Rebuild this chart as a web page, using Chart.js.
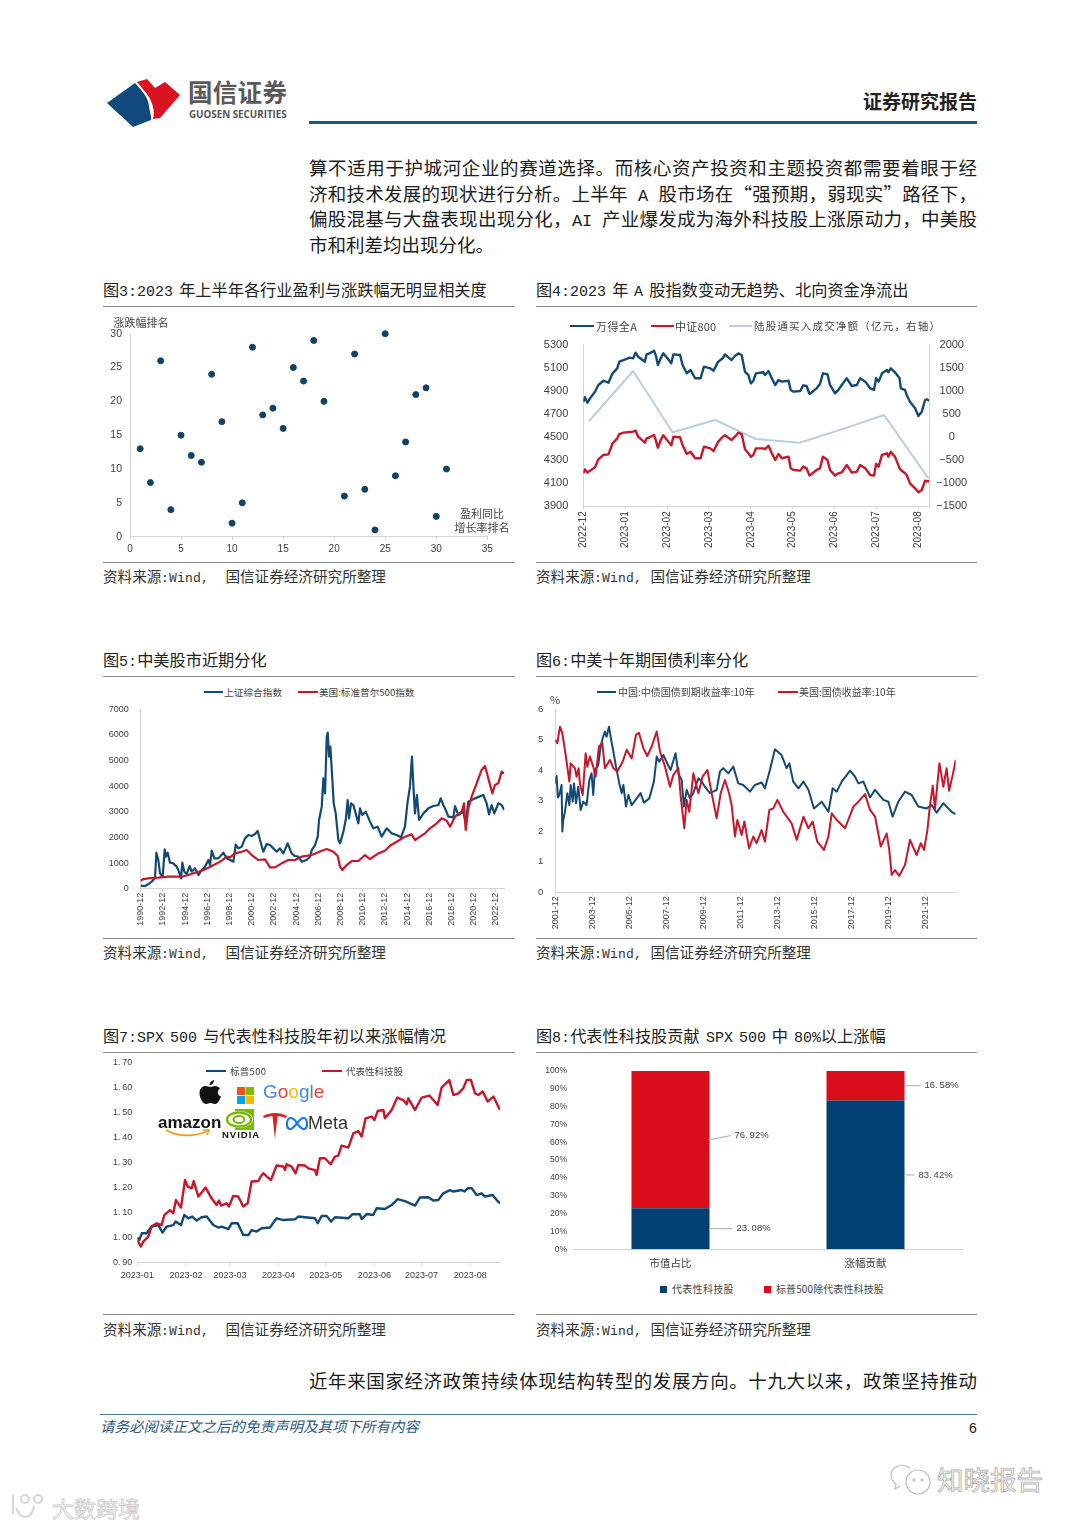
<!DOCTYPE html>
<html lang="zh-CN">
<head>
<meta charset="utf-8">
<title>证券研究报告</title>
<script src="https://cdn.jsdelivr.net/npm/chart.js@4"></script>
<style>
  @font-face { font-family: "LatinBody"; src: local("Liberation Mono"); size-adjust: 92%; unicode-range: U+0020-007E; }
  html, body { margin: 0; padding: 0; background: #fff; }
  body { position: relative; width: 1080px; height: 1527px; overflow: hidden; font-family: "Noto Sans CJK SC", sans-serif; color: #222; }
  .abs { position: absolute; white-space: nowrap; }
  .para { position: absolute; left: 309px; width: 668px; font-size: 18.5px; line-height: 26px; text-align: justify; text-align-last: justify; color: #1c1c1c; font-family: "LatinBody", "Noto Sans CJK SC"; white-space: nowrap; }
  .fig { position: absolute; font-size: 16.2px; line-height: 20px; word-spacing: -3px; color: #222; font-family: "LatinBody", "Noto Sans CJK SC"; white-space: nowrap; }
  .src { position: absolute; font-size: 14.6px; line-height: 18px; color: #333; font-family: "LatinBody", "Noto Sans CJK SC"; white-space: pre; }
  .rule { position: absolute; height: 1px; background: #8a8a8a; }
  .lg { position: absolute; line-height: 14px; color: #444; white-space: nowrap; }
  .ax { position: absolute; font-size: 11px; line-height: 14px; color: #444; white-space: nowrap; }
</style>
</head>
<body>
<!-- page header -->
<svg class="abs" style="left:105px;top:76px" width="80" height="54" viewBox="0 0 80 54">
  <path d="M2 27 L30 7 C36 14 43 20 44 30 C45 38 47 42 46 44 L28 51 Z" fill="#12497c"/>
  <path d="M32 6 L42 3 L50 12 L60 6 L75 19 L55 42 L48 43 C50 36 48 28 44 21 C40 15 36 11 32 6 Z" fill="#d8121f"/>
</svg>
<div class="abs" style="left:188px;top:75px;font-size:24.5px;line-height:34px;font-weight:700;color:#5a5a5a;letter-spacing:.3px">国信证券</div>
<div class="abs" style="left:189px;top:108px;font-size:9.8px;line-height:13px;font-weight:700;color:#555;font-family:'Open Sans'">GUOSEN SECURITIES</div>
<div class="abs" style="left:863px;top:88px;font-size:19px;line-height:26px;font-weight:700;color:#222">证券研究报告</div>
<div class="abs" style="left:309px;top:121px;width:668px;height:3px;background:#1d5480"></div>

<div class="para" style="top:158px">算不适用于护城河企业的赛道选择。而核心资产投资和主题投资都需要着眼于经</div>
<div class="para" style="top:184px">济和技术发展的现状进行分析。上半年 A 股市场在“强预期&#xFF0C;弱现实”路径下&#xFF0C;</div>
<div class="para" style="top:209px">偏股混基与大盘表现出现分化&#xFF0C;AI 产业爆发成为海外科技股上涨原动力&#xFF0C;中美股</div>
<div class="para" style="top:235px;text-align-last:left">市和利差均出现分化。</div>

<div class="fig" style="left:103px;top:282px">图3:2023 年上半年各行业盈利与涨跌幅无明显相关度</div>
<div class="fig" style="left:536px;top:282px">图4:2023 年 A 股指数变动无趋势、北向资金净流出</div>
<div class="rule" style="left:103px;top:306px;width:412px"></div>
<div class="rule" style="left:536px;top:306px;width:441px"></div>
<div class="rule" style="left:103px;top:562px;width:412px"></div>
<div class="rule" style="left:536px;top:562px;width:441px"></div>
<div class="src" style="left:103px;top:570px">资料来源:Wind,  国信证券经济研究所整理</div>
<div class="src" style="left:536px;top:570px">资料来源:Wind, 国信证券经济研究所整理</div>

<div class="fig" style="left:103px;top:652px">图5:中美股市近期分化</div>
<div class="fig" style="left:536px;top:652px">图6:中美十年期国债利率分化</div>
<div class="rule" style="left:103px;top:676px;width:412px"></div>
<div class="rule" style="left:536px;top:676px;width:441px"></div>
<div class="rule" style="left:103px;top:938px;width:412px"></div>
<div class="rule" style="left:536px;top:938px;width:441px"></div>
<div class="src" style="left:103px;top:946px">资料来源:Wind,  国信证券经济研究所整理</div>
<div class="src" style="left:536px;top:946px">资料来源:Wind, 国信证券经济研究所整理</div>

<div class="fig" style="left:103px;top:1028px">图7:SPX 500 与代表性科技股年初以来涨幅情况</div>
<div class="fig" style="left:536px;top:1028px">图8:代表性科技股贡献 SPX 500 中 80%以上涨幅</div>
<div class="rule" style="left:103px;top:1052px;width:412px"></div>
<div class="rule" style="left:536px;top:1052px;width:441px"></div>
<div class="rule" style="left:103px;top:1314px;width:412px"></div>
<div class="rule" style="left:536px;top:1314px;width:441px"></div>
<div class="src" style="left:103px;top:1323px">资料来源:Wind,  国信证券经济研究所整理</div>
<div class="src" style="left:536px;top:1323px">资料来源:Wind, 国信证券经济研究所整理</div>

<div class="para" style="top:1371px">近年来国家经济政策持续体现结构转型的发展方向。十九大以来&#xFF0C;政策坚持推动</div>

<div class="abs" style="left:100px;top:1414px;width:877px;height:1px;background:#4f7896"></div>
<div class="abs" style="left:100px;top:1416px;font-size:14.5px;line-height:20px;font-style:italic;color:#2c5a84">请务必阅读正文之后的免责声明及其项下所有内容</div>
<div class="abs" style="left:969px;top:1419px;font-size:14px;line-height:18px;color:#222;font-family:'Liberation Sans'">6</div>

<!-- watermarks -->
<svg class="abs" style="left:888px;top:1462px" width="48" height="36" viewBox="0 0 48 36" fill="none" stroke="#bdbdbd" stroke-width="1.2">
  <path d="M22 6 C14 0 3 5 3 13 C3 17 5 20 8 22 L7 27 L12 24"/>
  <circle cx="30" cy="20" r="12"/><circle cx="26" cy="18" r="1"/><circle cx="34" cy="18" r="1"/>
</svg>
<div class="abs" style="left:937px;top:1461px;font-size:26.5px;line-height:36px;color:#fff;-webkit-text-stroke:.9px #b4b4b4">知晓报告</div>
<svg class="abs" style="left:8px;top:1492px" width="44" height="32" viewBox="0 0 44 32" fill="none" stroke="#d6d6d6" stroke-width="2">
  <path d="M5 3 V22"/><path d="M8 16 C12 28 24 28 26 14"/><circle cx="17" cy="7" r="4"/><circle cx="30" cy="7" r="4"/>
</svg>
<div class="abs" style="left:52px;top:1491px;font-size:22px;line-height:32px;color:#fff;-webkit-text-stroke:.9px #cfcfcf">大数跨境</div>

<script>
// 图3 scatter
const earningsRank = [1,2,3,4,5,6,7,8,9,10,11,12,13,14,15,16,17,18,19,21,22,23,24,25,26,27,28,29,30,31];
const returnRank = [13,8,26,4,15,12,11,24,17,2,5,28,18,19,16,25,23,29,20,6,27,7,1,30,9,14,21,22,3,10];

// 图4 months since 2022-12
const fig4Ticks = ["2022-12","2023-01","2023-02","2023-03","2023-04","2023-05","2023-06","2023-07","2023-08"];
const fig4Time = [0,.04,.10,.16,.28,.36,.48,.60,.70,.81,
  .86,.96,1.11,1.19,1.25,1.31,1.47,1.51,1.58,1.69,
  1.74,1.78,1.85,1.91,2.01,2.10,2.15,2.31,2.37,2.47,
  2.56,2.67,2.80,2.88,3.03,3.11,3.22,3.33,3.38,3.54,
  3.62,3.70,3.78,3.86,3.94,4.00,4.06,4.12,4.30,4.34,
  4.42,4.50,4.58,4.66,4.74,4.90,4.95,5.02,5.18,5.25,
  5.33,5.40,5.57,5.65,5.72,5.83,5.89,6.01,6.09,6.17,
  6.29,6.41,6.53,6.61,6.73,6.85,6.94,6.99,7.05,7.13,
  7.25,7.28,7.34,7.44,7.55,7.58,7.68,7.72,7.80,7.92,
  8.00,8.08,8.16,8.20,8.26];
const windA = [4806,4844,4798,4835,4893,4951,4988,4971,5052,5095,
  5153,5167,5188,5182,5231,5196,5153,5216,5225,5248,
  5196,5124,5182,5225,5182,5139,5216,5211,5124,5052,
  5081,5009,5009,5110,5095,5075,5153,5182,5216,5167,
  5202,5225,5211,5066,5037,4965,4988,5052,5061,5037,
  5072,5009,4951,4994,4980,4988,4908,4893,4899,4948,
  4942,4873,4922,4960,5052,5043,4951,4879,4908,4951,
  5009,4942,4951,5009,4980,4922,4908,5009,4980,5052,
  5081,5061,5095,5061,5009,4922,4908,4864,4806,4749,
  4682,4720,4821,4827,4815];
const csi800 = [4186,4220,4192,4209,4238,4307,4345,4350,4446,4489,
  4526,4538,4544,4547,4555,4503,4451,4489,4498,4518,
  4460,4408,4475,4515,4469,4428,4503,4498,4431,4353,
  4373,4316,4316,4417,4402,4379,4460,4503,4515,4475,
  4503,4538,4526,4394,4359,4330,4345,4402,4402,4394,
  4425,4359,4301,4353,4316,4330,4229,4215,4209,4244,
  4229,4166,4215,4229,4330,4301,4215,4166,4186,4194,
  4258,4192,4200,4258,4229,4171,4166,4267,4244,4345,
  4359,4330,4373,4330,4229,4215,4186,4171,4099,4056,
  4021,4041,4122,4117,4117];
const connectTime = [.14,1.19,2.13,3.15,4.12,5.16,6.17,7.18,8.24];
const connectFlow = [347,1430,102,369,-42,-122,167,477,-894];
const fig4Right = ["−1500","−1000","−500","0","500","1000","1500","2000"];

// 图5 years since 1990-12
const fig5Ticks = ["1990-12","1992-12","1994-12","1996-12","1998-12","2000-12","2002-12","2004-12","2006-12","2008-12","2010-12","2012-12","2014-12","2016-12","2018-12","2020-12","2022-12"];
const sseTime = [0,.39,.69,.99,1.29,1.41,1.59,1.74,1.98,2.16,
  2.28,2.43,2.64,2.94,3.24,3.39,3.63,3.75,3.93,4.14,
  4.41,4.59,4.89,5.20,5.50,5.80,6.10,6.25,6.40,6.64,
  7.00,7.45,7.75,8.05,8.35,8.56,8.80,9.10,9.40,9.70,
  10.0,10.3,10.54,10.75,11.05,11.35,11.65,11.95,12.25,12.55,
  12.85,13.24,13.60,13.90,14.20,14.50,14.95,15.26,15.41,15.71,
  15.95,16.07,16.31,16.46,16.61,16.76,16.85,16.97,17.09,17.27,
  17.39,17.57,17.81,17.96,18.26,18.47,18.65,18.77,18.95,19.16,
  19.37,19.61,19.76,19.97,20.27,20.66,20.96,21.35,21.71,22.16,
  22.61,23.06,23.45,23.81,24.05,24.26,24.44,24.59,24.71,24.89,
  25.08,25.47,25.92,26.37,26.82,27.03,27.27,27.51,27.72,28.17,
  28.32,28.62,29.07,29.28,29.52,30.12,30.87,31.17,31.38,31.62,
  31.86,32.22,32.52,32.76];
const sseIndex = [117,104,182,273,416,1405,1119,598,468,1535,
  1249,1405,1015,989,859,729,403,1015,664,572,
  885,664,794,533,729,859,1119,924,1483,1184,
  1184,1405,1184,1119,1054,1717,1574,1639,1964,2095,
  2056,2134,2251,1899,1444,1743,1704,1574,1444,1574,
  1379,1769,1379,1275,1249,1054,1119,1249,1509,1704,
  2030,2680,3200,4306,3721,5932,6089,5152,5542,4241,
  3330,2940,1899,1769,2225,2680,3460,2745,3330,3265,
  2940,2550,3135,2875,3005,2615,2355,2420,2030,2355,
  2160,2095,2004,2420,3395,3981,5152,3851,2940,3656,
  2680,2940,3135,3226,3265,3525,3265,3044,2810,2784,
  3226,2875,3005,2550,3395,3525,3656,3330,2901,3265,
  2940,3330,3265,3070];
const spxTime = [0,.24,.69,1.59,2.49,3.69,4.29,4.89,5.50,6.10,
  6.70,7.30,7.75,8.05,8.50,9.10,9.55,10.0,10.6,11.2,
  11.65,12.1,12.7,13.3,13.9,14.5,15.41,16.31,16.76,17.36,
  17.75,17.96,18.17,18.56,19.01,19.61,20.21,20.66,21.41,22.01,
  22.46,23.21,23.81,24.41,24.71,25.17,25.62,26.07,26.67,27.12,
  27.57,27.87,28.32,28.92,29.13,29.28,29.52,29.82,30.27,30.72,
  31.02,31.32,31.68,31.92,32.22,32.52,32.76];
const spxIndex = [312,377,403,429,468,468,533,624,703,820,
  950,1093,1249,1223,1379,1444,1509,1314,1119,1145,
  833,833,989,1119,1119,1249,1314,1483,1548,1444,
  1275,859,729,924,1080,1080,1314,1158,1379,1483,
  1678,1873,2030,2121,1899,2030,2160,2355,2550,2745,
  2654,2420,2810,3005,3330,2290,3135,3591,4111,4632,
  4788,4306,3721,4046,4111,4567,4502];

// 图6 years since 2001-12
const fig6Ticks = ["2001-12","2003-12","2005-12","2007-12","2009-12","2011-12","2013-12","2015-12","2017-12","2019-12","2021-12"];
const cnTime = [0,.07,.14,.22,.34,.38,.43,.52,.65,.76,
  .83,.94,1.01,1.12,1.24,1.37,1.51,1.69,1.84,1.96,
  2.05,2.14,2.32,2.45,2.56,2.68,2.77,2.90,3.05,3.14,
  3.28,3.46,3.59,3.68,3.82,3.95,4.13,4.40,4.61,4.79,
  5.08,5.33,5.48,5.62,5.84,6.05,6.23,6.50,6.65,6.83,
  6.95,7.10,7.28,7.46,7.73,7.91,8.09,8.36,8.72,8.90,
  9.08,9.35,9.62,9.89,10.16,10.52,10.79,11.15,11.33,11.60,
  11.87,12.23,12.50,12.65,12.86,13.14,13.41,13.68,13.98,14.40,
  14.76,14.99,15.21,15.48,15.93,16.20,16.38,16.65,17.01,17.28,
  17.73,18.00,18.23,18.54,18.90,19.26,19.62,20.07,20.34,20.61,
  20.97,21.24,21.42,21.64];
const cnYield = [3.57,3.81,3.11,3.19,3.52,1.99,2.37,2.64,3.25,2.86,
  3.52,2.97,3.57,2.92,3.46,2.70,2.97,2.86,3.68,3.90,
  3.19,4.01,4.17,4.78,5.05,5.27,5.10,5.43,4.89,4.61,
  4.12,3.57,3.25,3.52,2.81,3.19,2.86,3.08,3.25,2.94,
  3.08,3.63,4.45,4.28,4.50,4.23,4.01,4.56,3.90,3.68,
  2.81,3.36,3.08,3.25,3.74,3.63,3.46,3.25,3.36,3.96,
  4.07,3.90,4.12,3.57,3.52,3.30,3.52,3.60,3.41,4.01,
  4.69,4.50,4.07,4.23,3.63,3.41,3.63,3.36,2.75,2.97,
  2.64,3.41,3.30,3.63,3.99,3.79,3.57,3.63,3.11,3.36,
  3.03,2.97,2.48,2.97,3.30,3.19,2.81,2.75,2.86,2.61,
  2.92,2.75,2.64,2.56];
const usTime = [0,.11,.25,.38,.52,.76,.83,1.06,1.15,1.26,
  1.33,1.48,1.64,1.73,1.87,2.05,2.18,2.36,2.54,2.68,
  2.95,3.14,3.35,3.64,3.86,4.13,4.36,4.52,4.76,4.97,
  5.21,5.48,5.66,5.93,6.20,6.38,6.65,6.77,6.97,7.10,
  7.24,7.46,7.73,7.96,8.22,8.45,8.72,8.94,9.17,9.39,
  9.53,9.71,9.84,10.07,10.22,10.47,10.70,10.88,11.15,11.33,
  11.57,11.78,12.0,12.32,12.77,13.05,13.41,13.68,13.91,14.16,
  14.52,14.76,14.94,15.21,15.66,16.11,16.38,16.74,17.01,17.28,
  17.59,17.91,18.05,18.18,18.36,18.59,18.90,19.17,19.53,19.75,
  19.93,20.11,20.25,20.40,20.52,20.76,20.97,21.15,21.28,21.48,
  21.64];
const usYield = [4.99,4.89,5.43,5.21,4.67,3.63,4.23,4.07,3.79,4.07,
  3.57,3.19,4.56,4.12,4.45,4.12,3.79,4.78,4.89,4.07,
  4.34,4.07,3.96,4.28,4.67,4.39,5.16,5.23,4.72,4.47,
  4.78,5.27,4.61,4.12,3.46,3.85,4.07,3.19,2.10,3.03,
  2.64,3.90,3.25,3.79,4.01,3.25,2.43,3.25,3.68,3.25,
  2.86,1.83,2.37,1.88,2.32,1.44,1.83,1.61,2.04,1.66,
  2.70,2.75,3.03,2.64,2.26,1.72,2.48,2.10,2.32,1.66,
  1.39,1.83,2.59,2.37,2.10,2.81,2.97,3.22,2.70,2.48,
  1.50,1.93,1.39,0.57,0.73,0.54,0.90,1.72,1.22,1.61,
  1.39,2.04,2.86,3.49,2.75,4.23,3.46,4.07,3.33,3.85,
  4.34];

// 图7 days since 2023-01-01
const fig7Ticks = ["2023-01","2023-02","2023-03","2023-04","2023-05","2023-06","2023-07","2023-08"];
const fig7TickDays = [0,31,59,90,120,151,181,212];
const fig7Left = ["0.\u200990","1.\u200900","1.\u200910","1.\u200920","1.\u200930","1.\u200940","1.\u200950","1.\u200960","1.\u200970"];
const spDays = [0,1.3,2.8,5.9,9.1,13.4,16.1,18.7,22.9,24.4,
  27.8,29.9,32.5,35,37.8,41,44.2,48.4,51.6,53.7,
  58,60.1,63.9,67.5,70.7,72.8,76,79.2,84.5,88.7,
  93,100.4,102.5,106.8,113.2,114.9,117.4,120.6,123.4,125.9,
  134.4,136.9,141.8,142.9,146.1,150.3,152.4,157.7,162,165.8,
  170.5,176.9,180,185.4,188.5,191.7,194.9,199.2,201.3,206.6,
  208.3,210.4,213,216.1,219.3,221.4,226.3,228.9,231];
const sp500 = [.999,.989,1.016,1.016,1.043,1.049,1.019,1.043,1.049,1.063,
  1.049,1.089,1.076,1.083,1.067,1.08,1.083,1.049,1.039,1.043,
  1.033,1.056,1.056,1.009,1.009,1.029,1.023,1.036,1.039,1.076,
  1.069,1.072,1.083,1.08,1.076,1.056,1.085,1.085,1.063,1.08,
  1.076,1.092,1.092,1.073,1.093,1.089,1.116,1.113,1.129,1.153,
  1.145,1.127,1.159,1.16,1.147,1.149,1.176,1.189,1.183,1.189,
  1.183,1.196,1.196,1.169,1.176,1.163,1.169,1.149,1.136];
const techDays = [0,2.3,3.8,7,9.1,12.3,15.5,17.2,20.8,22.9,
  24.6,27.8,30.4,32.1,34.6,35.9,38.9,43.5,47.3,50.5,
  52,53.3,56.9,58.4,61.1,64.3,67.5,70.3,72.8,77.1,
  78.6,80.3,85.1,88.7,93,94.1,95.1,98.3,100.8,102.5,
  106.8,108.9,113.2,114.2,116.3,119.5,123.1,125.9,128,130.1,
  134.4,137.6,140.8,142.9,145.4,149.3,151,153.1,156.7,157.7,
  162,165.6,169.4,171.5,172.6,176.9,181.1,186,191.3,193.8,
  198.7,201.3,204.5,207.6,209.8,212.5,215.1,217.2,220,223.1,
  226.8,231];
const techStocks = [.989,.963,.983,1.003,1.043,1.056,1.049,1.089,1.109,1.096,
  1.149,1.119,1.229,1.203,1.196,1.225,1.163,1.199,1.156,1.129,
  1.147,1.127,1.136,1.123,1.165,1.163,1.123,1.136,1.223,1.225,
  1.243,1.256,1.229,1.287,1.283,1.269,1.292,1.283,1.256,1.289,
  1.287,1.276,1.269,1.249,1.316,1.316,1.292,1.323,1.327,1.367,
  1.359,1.416,1.425,1.403,1.476,1.483,1.469,1.505,1.509,1.476,
  1.509,1.559,1.549,1.532,1.556,1.509,1.559,1.567,1.529,1.599,
  1.629,1.569,1.576,1.596,1.629,1.629,1.576,1.569,1.583,1.543,
  1.563,1.509];

// 图8
const fig8Categories = ["市值占比","涨幅贡献"];
const fig8Left = ["0%","10%","20%","30%","40%","50%","60%","70%","80%","90%","100%"];
const techShare = [23.08,83.42];
const restShare = [76.92,16.58];
const techShareLabels = ["23.\u200908%","83.\u200942%"];
const restShareLabels = ["76.\u200992%","16.\u200958%"];

const NAVY = "#134a75";
const RED = "#c6172b";
const AXIS = "#d4d4d4";
const TEXT = "#404040";
const SANS = '"Liberation Sans"';
const CJK = '"Noto Sans CJK SC"';

Chart.defaults.animation = false;
Chart.defaults.responsive = false;
Chart.defaults.plugins.legend.display = false;
Chart.defaults.plugins.tooltip.enabled = false;

function pairs(xs, ys) {
  return xs.map((x, i) => ({ x: x, y: ys[i] }));
}

function lineSet(label, xs, ys, color, width, order, axis) {
  return {
    label: label,
    data: pairs(xs, ys),
    borderColor: color,
    backgroundColor: color,
    borderWidth: width,
    pointRadius: 0,
    tension: 0,
    order: order,
    yAxisID: axis || "y",
    borderJoinStyle: "round",
  };
}

function noPadding(s) {
  s.paddingLeft = s.paddingRight = s.paddingTop = s.paddingBottom = 0;
}

// box is the canvas on the page, plot is the wanted chart area on the page
function makeChart(box, plot, type, data, scales, plugins) {
  const canvas = document.createElement("canvas");
  canvas.width = box.w;
  canvas.height = box.h;
  canvas.style.cssText = "position:absolute;left:" + box.x + "px;top:" + box.y + "px";
  document.body.appendChild(canvas);
  scales.x.afterFit = (s) => { noPadding(s); s.height = box.y + box.h - plot.b; };
  scales.y.afterFit = (s) => { noPadding(s); s.width = plot.l - box.x; };
  if (scales.y2) scales.y2.afterFit = (s) => { noPadding(s); s.width = box.x + box.w - plot.r; };
  return new Chart(canvas, {
    type: type,
    data: data,
    options: {
      layout: { padding: { top: plot.t - box.y, right: scales.y2 ? 0 : box.x + box.w - plot.r, bottom: 0, left: 0 } },
      scales: scales,
    },
    plugins: plugins || [],
  });
}

function tickFont(size) {
  return { family: SANS, size: size };
}

function hAxis(min, max, step, labels, size, padding, rotated) {
  const axis = {
    type: "linear",
    min: min,
    max: max,
    grid: { drawOnChartArea: false, color: AXIS, tickLength: 3 },
    border: { color: AXIS },
    ticks: {
      stepSize: step,
      includeBounds: false,
      autoSkip: false,
      color: TEXT,
      font: tickFont(size),
      padding: padding,
      minRotation: rotated ? 90 : 0,
      maxRotation: rotated ? 90 : 0,
    },
  };
  if (labels) axis.ticks.callback = (v) => labels[Math.round(v / step)];
  return axis;
}

function vAxis(min, max, step, labels, size, padding, position) {
  return {
    type: "linear",
    position: position || "left",
    min: min,
    max: max,
    grid: { drawOnChartArea: false, drawTicks: false, display: false },
    border: { color: AXIS },
    ticks: {
      stepSize: step,
      color: TEXT,
      font: tickFont(size),
      padding: padding,
      callback: labels ? (v) => labels[Math.round((v - min) / step)] : (v) => String(v),
    },
  };
}

function legendLine(x, y, w, color, h) {
  const el = document.createElement("div");
  el.style.cssText = "position:absolute;left:" + x + "px;top:" + (y - (h || 2) / 2) + "px;width:" + w + "px;height:" + (h || 2) + "px;background:" + color;
  document.body.appendChild(el);
}

function legendText(x, y, text, size, spacing) {
  const el = document.createElement("div");
  el.className = "lg";
  el.textContent = text;
  el.style.cssText = "left:" + x + "px;top:" + (y - 7) + "px;font-size:" + size + "px;letter-spacing:" + spacing + "px";
  document.body.appendChild(el);
}

function axisNote(x, y, text) {
  const el = document.createElement("div");
  el.className = "ax";
  el.textContent = text;
  el.style.left = x + "px";
  el.style.top = y - 7 + "px";
  document.body.appendChild(el);
}

// 图3
makeChart(
  { x: 95, y: 325, w: 430, h: 240 },
  { l: 130, r: 487.3, t: 333.7, b: 536.7 },
  "scatter",
  { datasets: [{ label: "行业", data: pairs(earningsRank, returnRank), backgroundColor: "#0f4266", borderColor: "#0f4266", pointRadius: 3, clip: false }] },
  { x: hAxis(0, 35, 5, null, 10, 4, false), y: vAxis(0, 30, 5, null, 10.5, 8) }
);
axisNote(113.5, 322, "涨跌幅排名");
axisNote(460, 513, "盈利同比");
axisNote(454.5, 527, "增长率排名");

// 图4
const fig4Series = ["万得全A", "中证800", "陆股通买入成交净额\uFF08亿元\uFF0C右轴\uFF09"];
const fig4Y2 = vAxis(-1500, 2000, 500, fig4Right, 11, 7, "right");
fig4Y2.ticks.crossAlign = "center";
makeChart(
  { x: 530, y: 335, w: 450, h: 220 },
  { l: 583.3, r: 929.3, t: 344.7, b: 506.3 },
  "line",
  { datasets: [
    lineSet(fig4Series[2], connectTime, connectFlow, "#b8cee2", 2, 2, "y2"),
    lineSet(fig4Series[0], fig4Time, windA, NAVY, 2.4, 1),
    lineSet(fig4Series[1], fig4Time, csi800, RED, 2.4, 0),
  ] },
  {
    x: hAxis(0, 8.26, 1, fig4Ticks, 10, 2, true),
    y: vAxis(3900, 5300, 200, null, 11, 15),
    y2: fig4Y2,
  }
);
legendLine(570, 326, 24, NAVY);
legendText(596, 326, fig4Series[0], 11, 0.4);
legendLine(651, 326, 23, RED);
legendText(675, 326, fig4Series[1], 11, 0.2);
legendLine(729, 326, 23, "#b8cee2");
legendText(754, 326, fig4Series[2], 10.5, 1.2);

// 图5
const fig5Series = ["上证综合指数", "美国:标准普尔500指数"];
makeChart(
  { x: 95, y: 700, w: 430, h: 235 },
  { l: 140.7, r: 504.3, t: 709.3, b: 888.7 },
  "line",
  { datasets: [
    lineSet(fig5Series[0], sseTime, sseIndex, NAVY, 2.2, 1),
    lineSet(fig5Series[1], spxTime, spxIndex, RED, 2.2, 0),
  ] },
  {
    x: hAxis(0, 32.76, 2, fig5Ticks, 9, 1, true),
    y: vAxis(0, 7000, 1000, null, 9, 12),
  }
);
legendLine(204, 692, 19, NAVY);
legendText(224, 692, fig5Series[0], 9.6, 0.1);
legendLine(298, 692, 20, RED);
legendText(319, 692, fig5Series[1], 9.6, 0);

// 图6
const fig6Series = ["中国:中债国债到期收益率:10年", "美国:国债收益率:10年"];
makeChart(
  { x: 530, y: 700, w: 450, h: 235 },
  { l: 555.3, r: 955.7, t: 709.3, b: 892.3 },
  "line",
  { datasets: [
    lineSet(fig6Series[0], cnTime, cnYield, NAVY, 2, 1),
    lineSet(fig6Series[1], usTime, usYield, RED, 2, 0),
  ] },
  {
    x: hAxis(0, 21.64, 2, fig6Ticks, 9, 1, true),
    y: vAxis(0, 6, 1, null, 9.5, 12),
  }
);
legendLine(597, 692, 19, NAVY);
legendText(618, 692, fig6Series[0], 10, 0);
legendLine(778, 692, 20, RED);
legendText(799, 692, fig6Series[1], 10, 0);
axisNote(550, 699, "%");

// 图7
const fig7Series = ["标普500", "代表性科技股"];
const fig7X = hAxis(0, 231, 31, null, 9, 5, false);
fig7X.afterBuildTicks = (s) => { s.ticks = fig7TickDays.map((d) => ({ value: d })); };
fig7X.ticks.callback = (v) => fig7Ticks[fig7TickDays.indexOf(v)];
const fig7Y = vAxis(0.9, 1.7, 0.1, fig7Left, 9, 5);
fig7Y.border = { display: false };
makeChart(
  { x: 95, y: 1055, w: 430, h: 235 },
  { l: 137.3, r: 500, t: 1062.3, b: 1262.3 },
  "line",
  { datasets: [
    lineSet(fig7Series[0], spDays, sp500, NAVY, 2.4, 1),
    lineSet(fig7Series[1], techDays, techStocks, RED, 2.4, 0),
  ] },
  { x: fig7X, y: fig7Y }
);
legendLine(206, 1071, 20, NAVY);
legendText(230, 1071, fig7Series[0], 9.5, 0.3);
legendLine(322, 1071, 20, RED);
legendText(346, 1071, fig7Series[1], 9.5, 0);

// 图8, callouts follow the bar segments
const calloutPlugin = {
  id: "callouts",
  afterDatasetsDraw(chart) {
    const ctx = chart.ctx;
    const texts = [techShareLabels, restShareLabels];
    const lens = [[22, 9], [20, 15]];
    chart.data.datasets.forEach((ds, d) => {
      chart.getDatasetMeta(d).data.forEach((bar, i) => {
        const edge = bar.x + bar.width / 2 + 1;
        const mid = (bar.y + bar.base) / 2;
        const rise = d === 1 && i === 0 ? 4 : 0;
        ctx.save();
        ctx.strokeStyle = "#a8a8a8";
        ctx.lineWidth = 1;
        ctx.beginPath();
        ctx.moveTo(edge, mid);
        ctx.lineTo(edge + lens[d][i], mid - rise);
        ctx.stroke();
        ctx.fillStyle = TEXT;
        ctx.font = "9.5px " + SANS;
        ctx.textBaseline = "middle";
        ctx.fillText(texts[d][i], edge + lens[d][i] + 4, mid - rise);
        ctx.restore();
      });
    });
  },
};
const fig8Series = ["代表性科技股", "标普500除代表性科技股"];
const fig8Y = vAxis(0, 100, 10, fig8Left, 8.5, 6);
fig8Y.stacked = true;
fig8Y.border = { display: false };
makeChart(
  { x: 530, y: 1060, w: 450, h: 215 },
  { l: 573, r: 963, t: 1071, b: 1249.3 },
  "bar",
  {
    labels: fig8Categories,
    datasets: [
      { label: fig8Series[0], data: techShare, backgroundColor: "#023f73", barPercentage: 0.4, categoryPercentage: 1 },
      { label: fig8Series[1], data: restShare, backgroundColor: "#d90e1a", barPercentage: 0.4, categoryPercentage: 1 },
    ],
  },
  {
    x: {
      stacked: true,
      grid: { display: false, drawTicks: false },
      border: { color: AXIS },
      ticks: { color: TEXT, font: { family: CJK, size: 10.5 }, padding: 7, maxRotation: 0 },
    },
    y: fig8Y,
  },
  [calloutPlugin]
);
legendLine(660, 1289, 7, "#023f73", 7);
legendText(672, 1289, fig8Series[0], 10, 0.3);
legendLine(764, 1289, 7, "#d90e1a", 7);
legendText(776, 1289, fig8Series[1], 10, 0.1);
</script>

<!-- logos inside 图7 -->
<svg class="abs" style="left:198px;top:1079px" width="24" height="26" viewBox="0 0 24 26">
  <path d="M16 1 C16 4 14 6 11.5 6 C11.5 3.5 13.5 1.5 16 1 Z M17 7 C19 7 21 8 22 9.5 C19 11.5 19 16 23 17.5 C22 20 20 25 17 25 C15 25 14.5 24 12.5 24 C10.5 24 9.5 25 8 25 C5 25 1.5 19 1.5 14 C1.5 9.5 4.5 7 7.5 7 C9.5 7 11 8 12.5 8 C14 8 15 7 17 7 Z" fill="#111"/>
</svg>
<svg class="abs" style="left:237px;top:1087px" width="17" height="17" viewBox="0 0 17 17">
  <rect x="0" y="0" width="8" height="8" fill="#f25022"/><rect x="9" y="0" width="8" height="8" fill="#7fba00"/>
  <rect x="0" y="9" width="8" height="8" fill="#00a4ef"/><rect x="9" y="9" width="8" height="8" fill="#ffb900"/>
</svg>
<div class="abs" style="left:263px;top:1075px;font-size:19px;line-height:34px;font-family:'Liberation Sans'"><span style="color:#4285f4">G</span><span style="color:#ea4335">o</span><span style="color:#fbbc05">o</span><span style="color:#4285f4">g</span><span style="color:#34a853">l</span><span style="color:#ea4335">e</span></div>
<div class="abs" style="left:158px;top:1111px;font-size:17px;line-height:24px;font-weight:700;color:#111;font-family:'Liberation Sans'">amazon</div>
<svg class="abs" style="left:165px;top:1129px" width="46" height="9" viewBox="0 0 46 9" fill="none" stroke="#f29a1d" stroke-width="1.6">
  <path d="M1 1 C12 8 30 8 42 2"/><path d="M38 1 L44 1 L42 6"/>
</svg>
<svg class="abs" style="left:224px;top:1109px" width="31" height="22" viewBox="0 0 31 22">
  <rect x="11" y="0" width="19" height="21" fill="#76b900"/>
  <ellipse cx="15" cy="10.5" rx="14" ry="8.5" fill="#fff"/>
  <ellipse cx="15" cy="10.5" rx="12" ry="7" fill="none" stroke="#76b900" stroke-width="2.4"/>
  <ellipse cx="15" cy="10.5" rx="5.5" ry="3.5" fill="none" stroke="#76b900" stroke-width="2"/>
</svg>
<div class="abs" style="left:222px;top:1129px;font-size:9.5px;line-height:12px;font-weight:700;color:#111;font-family:'Liberation Sans';letter-spacing:1px">NVIDIA</div>
<svg class="abs" style="left:262px;top:1112px" width="26" height="28" viewBox="0 0 26 28">
  <path d="M1 4 C8 0 18 0 25 4 L24 6 C20 4.5 17 4 15.5 4.2 L13 27 L10.5 4.2 C9 4 6 4.5 2 6 Z" fill="#d8202a"/>
</svg>
<svg class="abs" style="left:286px;top:1117px" width="22" height="13" viewBox="0 0 22 13" fill="none" stroke="#1877f2" stroke-width="2.2">
  <path d="M11 6.5 C8 1 6 1 4.5 1 C2.5 1 1 3.5 1 7 C1 10 2.5 12 4.5 12 C7 12 9 8 11 6.5 C13 4 15 1 17.5 1 C19.5 1 21 3.5 21 7 C21 10 19.5 12 17.5 12 C15 12 13 9 11 6.5 Z"/>
</svg>
<div class="abs" style="left:308px;top:1112px;font-size:18px;line-height:22px;color:#333;font-family:'Liberation Sans'">Meta</div>
</body>
</html>
